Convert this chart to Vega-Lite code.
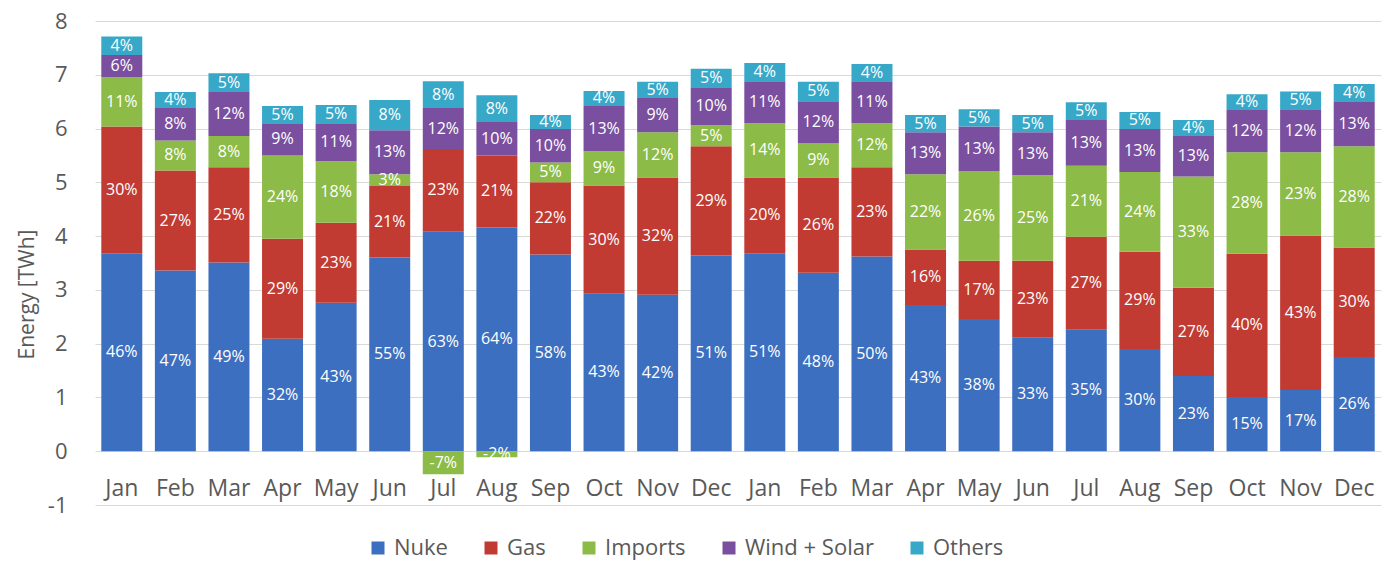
{
  "$schema": "https://vega.github.io/schema/vega-lite/v6.json",
  "width": 1286,
  "height": 484,
  "autosize": {"type": "none"},
  "padding": {"left": 95, "top": 21, "right": 10, "bottom": 57},
  "background": "white",
  "config": {"view": {"stroke": null}, "font": "Open Sans"},
  "data": {"values": [
    {"m":"Jan|1","s":"Nuke","k":1,"v":3.68,"p":"46%"},{"m":"Jan|1","s":"Gas","k":2,"v":2.36,"p":"30%"},{"m":"Jan|1","s":"Imports","k":3,"v":0.92,"p":"11%"},{"m":"Jan|1","s":"Wind + Solar","k":4,"v":0.41,"p":"6%"},{"m":"Jan|1","s":"Others","k":5,"v":0.34,"p":"4%"},
    {"m":"Feb|1","s":"Nuke","k":1,"v":3.36,"p":"47%"},{"m":"Feb|1","s":"Gas","k":2,"v":1.86,"p":"27%"},{"m":"Feb|1","s":"Imports","k":3,"v":0.56,"p":"8%"},{"m":"Feb|1","s":"Wind + Solar","k":4,"v":0.60,"p":"8%"},{"m":"Feb|1","s":"Others","k":5,"v":0.30,"p":"4%"},
    {"m":"Mar|1","s":"Nuke","k":1,"v":3.51,"p":"49%"},{"m":"Mar|1","s":"Gas","k":2,"v":1.77,"p":"25%"},{"m":"Mar|1","s":"Imports","k":3,"v":0.58,"p":"8%"},{"m":"Mar|1","s":"Wind + Solar","k":4,"v":0.82,"p":"12%"},{"m":"Mar|1","s":"Others","k":5,"v":0.35,"p":"5%"},
    {"m":"Apr|1","s":"Nuke","k":1,"v":2.09,"p":"32%"},{"m":"Apr|1","s":"Gas","k":2,"v":1.86,"p":"29%"},{"m":"Apr|1","s":"Imports","k":3,"v":1.55,"p":"24%"},{"m":"Apr|1","s":"Wind + Solar","k":4,"v":0.60,"p":"9%"},{"m":"Apr|1","s":"Others","k":5,"v":0.32,"p":"5%"},
    {"m":"May|1","s":"Nuke","k":1,"v":2.76,"p":"43%"},{"m":"May|1","s":"Gas","k":2,"v":1.49,"p":"23%"},{"m":"May|1","s":"Imports","k":3,"v":1.14,"p":"18%"},{"m":"May|1","s":"Wind + Solar","k":4,"v":0.71,"p":"11%"},{"m":"May|1","s":"Others","k":5,"v":0.34,"p":"5%"},
    {"m":"Jun|1","s":"Nuke","k":1,"v":3.60,"p":"55%"},{"m":"Jun|1","s":"Gas","k":2,"v":1.33,"p":"21%"},{"m":"Jun|1","s":"Imports","k":3,"v":0.22,"p":"3%"},{"m":"Jun|1","s":"Wind + Solar","k":4,"v":0.82,"p":"13%"},{"m":"Jun|1","s":"Others","k":5,"v":0.56,"p":"8%"},
    {"m":"Jul|1","s":"Nuke","k":1,"v":4.08,"p":"63%"},{"m":"Jul|1","s":"Gas","k":2,"v":1.54,"p":"23%"},{"m":"Jul|1","s":"Imports","k":3,"v":-0.43,"p":"-7%"},{"m":"Jul|1","s":"Wind + Solar","k":4,"v":0.76,"p":"12%"},{"m":"Jul|1","s":"Others","k":5,"v":0.50,"p":"8%"},
    {"m":"Aug|1","s":"Nuke","k":1,"v":4.16,"p":"64%"},{"m":"Aug|1","s":"Gas","k":2,"v":1.34,"p":"21%"},{"m":"Aug|1","s":"Imports","k":3,"v":-0.11,"p":"-2%"},{"m":"Aug|1","s":"Wind + Solar","k":4,"v":0.62,"p":"10%"},{"m":"Aug|1","s":"Others","k":5,"v":0.50,"p":"8%"},
    {"m":"Sep|1","s":"Nuke","k":1,"v":3.66,"p":"58%"},{"m":"Sep|1","s":"Gas","k":2,"v":1.34,"p":"22%"},{"m":"Sep|1","s":"Imports","k":3,"v":0.37,"p":"5%"},{"m":"Sep|1","s":"Wind + Solar","k":4,"v":0.62,"p":"10%"},{"m":"Sep|1","s":"Others","k":5,"v":0.26,"p":"4%"},
    {"m":"Oct|1","s":"Nuke","k":1,"v":2.93,"p":"43%"},{"m":"Oct|1","s":"Gas","k":2,"v":2.01,"p":"30%"},{"m":"Oct|1","s":"Imports","k":3,"v":0.64,"p":"9%"},{"m":"Oct|1","s":"Wind + Solar","k":4,"v":0.84,"p":"13%"},{"m":"Oct|1","s":"Others","k":5,"v":0.28,"p":"4%"},
    {"m":"Nov|1","s":"Nuke","k":1,"v":2.91,"p":"42%"},{"m":"Nov|1","s":"Gas","k":2,"v":2.18,"p":"32%"},{"m":"Nov|1","s":"Imports","k":3,"v":0.84,"p":"12%"},{"m":"Nov|1","s":"Wind + Solar","k":4,"v":0.64,"p":"9%"},{"m":"Nov|1","s":"Others","k":5,"v":0.30,"p":"5%"},
    {"m":"Dec|1","s":"Nuke","k":1,"v":3.64,"p":"51%"},{"m":"Dec|1","s":"Gas","k":2,"v":2.03,"p":"29%"},{"m":"Dec|1","s":"Imports","k":3,"v":0.39,"p":"5%"},{"m":"Dec|1","s":"Wind + Solar","k":4,"v":0.71,"p":"10%"},{"m":"Dec|1","s":"Others","k":5,"v":0.34,"p":"5%"},
    {"m":"Jan|2","s":"Nuke","k":1,"v":3.68,"p":"51%"},{"m":"Jan|2","s":"Gas","k":2,"v":1.41,"p":"20%"},{"m":"Jan|2","s":"Imports","k":3,"v":1.01,"p":"14%"},{"m":"Jan|2","s":"Wind + Solar","k":4,"v":0.78,"p":"11%"},{"m":"Jan|2","s":"Others","k":5,"v":0.34,"p":"4%"},
    {"m":"Feb|2","s":"Nuke","k":1,"v":3.32,"p":"48%"},{"m":"Feb|2","s":"Gas","k":2,"v":1.77,"p":"26%"},{"m":"Feb|2","s":"Imports","k":3,"v":0.64,"p":"9%"},{"m":"Feb|2","s":"Wind + Solar","k":4,"v":0.78,"p":"12%"},{"m":"Feb|2","s":"Others","k":5,"v":0.36,"p":"5%"},
    {"m":"Mar|2","s":"Nuke","k":1,"v":3.62,"p":"50%"},{"m":"Mar|2","s":"Gas","k":2,"v":1.66,"p":"23%"},{"m":"Mar|2","s":"Imports","k":3,"v":0.82,"p":"12%"},{"m":"Mar|2","s":"Wind + Solar","k":4,"v":0.78,"p":"11%"},{"m":"Mar|2","s":"Others","k":5,"v":0.32,"p":"4%"},
    {"m":"Apr|2","s":"Nuke","k":1,"v":2.72,"p":"43%"},{"m":"Apr|2","s":"Gas","k":2,"v":1.03,"p":"16%"},{"m":"Apr|2","s":"Imports","k":3,"v":1.40,"p":"22%"},{"m":"Apr|2","s":"Wind + Solar","k":4,"v":0.78,"p":"13%"},{"m":"Apr|2","s":"Others","k":5,"v":0.32,"p":"5%"},
    {"m":"May|2","s":"Nuke","k":1,"v":2.46,"p":"38%"},{"m":"May|2","s":"Gas","k":2,"v":1.08,"p":"17%"},{"m":"May|2","s":"Imports","k":3,"v":1.67,"p":"26%"},{"m":"May|2","s":"Wind + Solar","k":4,"v":0.83,"p":"13%"},{"m":"May|2","s":"Others","k":5,"v":0.32,"p":"5%"},
    {"m":"Jun|2","s":"Nuke","k":1,"v":2.11,"p":"33%"},{"m":"Jun|2","s":"Gas","k":2,"v":1.43,"p":"23%"},{"m":"Jun|2","s":"Imports","k":3,"v":1.59,"p":"25%"},{"m":"Jun|2","s":"Wind + Solar","k":4,"v":0.80,"p":"13%"},{"m":"Jun|2","s":"Others","k":5,"v":0.32,"p":"5%"},
    {"m":"Jul|2","s":"Nuke","k":1,"v":2.26,"p":"35%"},{"m":"Jul|2","s":"Gas","k":2,"v":1.73,"p":"27%"},{"m":"Jul|2","s":"Imports","k":3,"v":1.32,"p":"21%"},{"m":"Jul|2","s":"Wind + Solar","k":4,"v":0.85,"p":"13%"},{"m":"Jul|2","s":"Others","k":5,"v":0.33,"p":"5%"},
    {"m":"Aug|2","s":"Nuke","k":1,"v":1.90,"p":"30%"},{"m":"Aug|2","s":"Gas","k":2,"v":1.81,"p":"29%"},{"m":"Aug|2","s":"Imports","k":3,"v":1.48,"p":"24%"},{"m":"Aug|2","s":"Wind + Solar","k":4,"v":0.80,"p":"13%"},{"m":"Aug|2","s":"Others","k":5,"v":0.32,"p":"5%"},
    {"m":"Sep|2","s":"Nuke","k":1,"v":1.40,"p":"23%"},{"m":"Sep|2","s":"Gas","k":2,"v":1.64,"p":"27%"},{"m":"Sep|2","s":"Imports","k":3,"v":2.07,"p":"33%"},{"m":"Sep|2","s":"Wind + Solar","k":4,"v":0.75,"p":"13%"},{"m":"Sep|2","s":"Others","k":5,"v":0.30,"p":"4%"},
    {"m":"Oct|2","s":"Nuke","k":1,"v":1.01,"p":"15%"},{"m":"Oct|2","s":"Gas","k":2,"v":2.66,"p":"40%"},{"m":"Oct|2","s":"Imports","k":3,"v":1.89,"p":"28%"},{"m":"Oct|2","s":"Wind + Solar","k":4,"v":0.80,"p":"12%"},{"m":"Oct|2","s":"Others","k":5,"v":0.28,"p":"4%"},
    {"m":"Nov|2","s":"Nuke","k":1,"v":1.14,"p":"17%"},{"m":"Nov|2","s":"Gas","k":2,"v":2.87,"p":"43%"},{"m":"Nov|2","s":"Imports","k":3,"v":1.55,"p":"23%"},{"m":"Nov|2","s":"Wind + Solar","k":4,"v":0.80,"p":"12%"},{"m":"Nov|2","s":"Others","k":5,"v":0.33,"p":"5%"},
    {"m":"Dec|2","s":"Nuke","k":1,"v":1.75,"p":"26%"},{"m":"Dec|2","s":"Gas","k":2,"v":2.04,"p":"30%"},{"m":"Dec|2","s":"Imports","k":3,"v":1.88,"p":"28%"},{"m":"Dec|2","s":"Wind + Solar","k":4,"v":0.84,"p":"13%"},{"m":"Dec|2","s":"Others","k":5,"v":0.32,"p":"4%"}
  ]},
  "encoding": {
    "x": {
      "field": "m", "type": "nominal", "sort": null,
      "scale": {"paddingInner": 0.235, "paddingOuter": 0.1175},
      "axis": {
        "title": null, "labelExpr": "split(datum.label, '|')[0]", "labelAngle": 0,
        "labelFont": "Open Sans", "labelFontSize": 23, "labelColor": "#595959",
        "domain": false, "ticks": false, "tickSize": 0, "labelPadding": -28, "grid": false
      }
    },
    "order": {"field": "k", "type": "quantitative"}
  },
  "layer": [
    {
      "mark": {"type": "bar", "strokeWidth": 0},
      "encoding": {
        "y": {
          "field": "v", "type": "quantitative", "stack": "zero",
          "scale": {"domain": [-1, 8], "nice": false, "zero": false},
          "axis": {
            "values": [-1, 0, 1, 2, 3, 4, 5, 6, 7, 8], "labelExpr": "'' + datum.value",
            "title": "Energy [TWh]", "titleFont": "Open Sans", "titleFontSize": 21,
            "titleFontWeight": "normal", "titleColor": "#595959", "titlePadding": 10, "titleY": 273,
            "labelFont": "Open Sans", "labelFontSize": 22, "labelColor": "#595959", "labelPadding": 28,
            "domain": false, "ticks": false, "tickSize": 0,
            "grid": true, "gridColor": "#d9d9d9", "gridWidth": 1
          }
        },
        "color": {
          "field": "s", "type": "nominal",
          "scale": {
            "domain": ["Nuke", "Gas", "Imports", "Wind + Solar", "Others"],
            "range": ["#3d6fc0", "#c13b33", "#8cbb47", "#7a4f9f", "#38a8c9"]
          },
          "legend": {
            "orient": "none", "direction": "horizontal", "legendX": 272, "legendY": 516,
            "title": null, "symbolType": "square", "symbolSize": 169, "symbolStrokeWidth": 0,
            "symbolOpacity": 1, "labelFont": "Open Sans", "labelFontSize": 22, "labelColor": "#595959",
            "columnPadding": 32, "labelOffset": 5, "padding": 0
          }
        }
      }
    },
    {
      "mark": {"type": "text", "color": "white", "font": "Open Sans", "fontSize": 16, "baseline": "middle", "align": "center"},
      "encoding": {
        "y": {
          "field": "v", "type": "quantitative", "stack": "zero", "bandPosition": 0.5,
          "scale": {"domain": [-1, 8], "nice": false, "zero": false},
          "axis": {
            "values": [-1, 0, 1, 2, 3, 4, 5, 6, 7, 8], "labelExpr": "'' + datum.value",
            "title": "Energy [TWh]", "titleFont": "Open Sans", "titleFontSize": 21,
            "titleFontWeight": "normal", "titleColor": "#595959", "titlePadding": 10, "titleY": 273,
            "labelFont": "Open Sans", "labelFontSize": 22, "labelColor": "#595959", "labelPadding": 28,
            "domain": false, "ticks": false, "tickSize": 0,
            "grid": true, "gridColor": "#d9d9d9", "gridWidth": 1
          }
        },
        "detail": {"field": "s"},
        "text": {"field": "p"}
      }
    }
  ]
}
